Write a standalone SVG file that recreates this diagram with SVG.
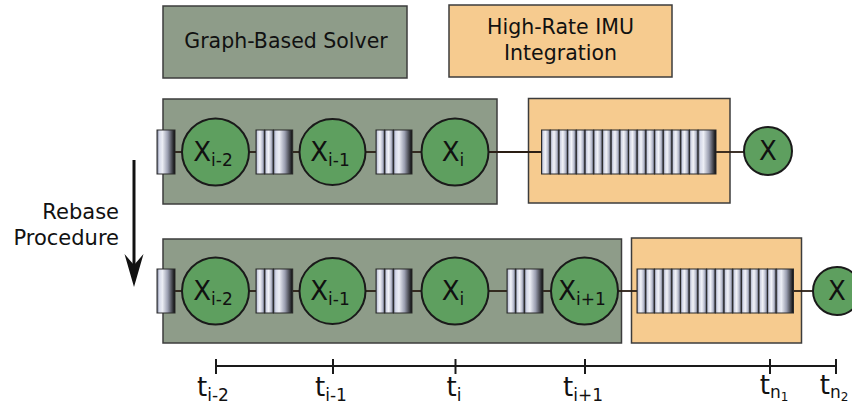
<svg xmlns="http://www.w3.org/2000/svg" xmlns:xlink="http://www.w3.org/1999/xlink" width="852" height="407" viewBox="0 0 852 407">
<style>
text{font-family:"DejaVu Sans","Liberation Sans",sans-serif;fill:#111}
.gbox{fill:#8e9c89;stroke:#3c3c3c;stroke-width:1.5}
.obox{fill:#f6cb8f;stroke:#3c3c3c;stroke-width:1.5}
.state{fill:#5e9f5f;stroke:#1a1a1a;stroke-width:2}
.nb{fill:url(#gBar);stroke:#2a2a2a;stroke-width:1}
.eb{fill:url(#gEnd);stroke:#2a2a2a;stroke-width:1}
.lab{font-size:20.5px;text-anchor:middle}
.x{font-size:26px;text-anchor:middle}
.sub{font-size:17px}
.tl{font-size:26px;text-anchor:middle}
.conn line{stroke:#2a1e14;stroke-width:1.8}
.axis line{stroke:#1a1a1a;stroke-width:2}
</style>
<defs>
<linearGradient id="gBar" x1="0" y1="0" x2="1" y2="0">
<stop offset="0" stop-color="#5a6078"/>
<stop offset="0.18" stop-color="#d0d4e4"/>
<stop offset="0.45" stop-color="#f2f3f8"/>
<stop offset="0.75" stop-color="#b8bccd"/>
<stop offset="1" stop-color="#4c5166"/>
</linearGradient>
<linearGradient id="gEnd" x1="0" y1="0" x2="1" y2="0">
<stop offset="0" stop-color="#5a6078"/>
<stop offset="0.12" stop-color="#d4d8e8"/>
<stop offset="0.3" stop-color="#eceef5"/>
<stop offset="0.6" stop-color="#9a9eb0"/>
<stop offset="1" stop-color="#080808"/>
</linearGradient>
<rect id="nb" width="8.7" height="44" class="nb"/>
</defs>

<g id="legend-solver"><rect class="gbox" x="163" y="6" width="244" height="72"/><text class="lab" x="286" y="48">Graph-Based Solver</text></g>
<g id="legend-imu"><rect class="obox" x="449" y="5" width="223" height="72"/><text class="lab" x="560.5" y="34">High-Rate IMU</text><text class="lab" x="560.5" y="60">Integration</text></g>

<g id="rebase"><line x1="134" y1="160" x2="134" y2="270" stroke="#111" stroke-width="3"/><path d="M134,287 L124.5,254 L134,265 L143.5,254 Z" fill="#111"/><text x="119" y="219" font-size="21" text-anchor="end">Rebase</text><text x="119" y="245" font-size="21" text-anchor="end">Procedure</text></g>

<g id="row1-solver"><rect class="gbox" x="163" y="99" width="334" height="105"/></g>
<g id="row1-imu"><rect class="obox" x="528.5" y="98.5" width="201.5" height="104.5"/></g>
<g id="row2-solver"><rect class="gbox" x="163" y="239" width="458.5" height="104"/></g>
<g id="row2-imu"><rect class="obox" x="631.5" y="238" width="170" height="105"/></g>

<g class="conn" id="connectors">
<line x1="175" y1="152" x2="182" y2="152"/><line x1="249" y1="152" x2="256" y2="152"/><line x1="293" y1="152" x2="299" y2="152"/><line x1="366" y1="152" x2="376" y2="152"/><line x1="412" y1="152" x2="421.5" y2="152"/><line x1="488.5" y1="152" x2="541.5" y2="152"/><line x1="716" y1="152" x2="744" y2="152"/>
<line x1="175" y1="291" x2="182" y2="291"/><line x1="249" y1="291" x2="256" y2="291"/><line x1="293" y1="291" x2="299" y2="291"/><line x1="366" y1="291" x2="376" y2="291"/><line x1="412" y1="291" x2="421.5" y2="291"/><line x1="488.5" y1="291" x2="507" y2="291"/><line x1="543" y1="291" x2="551" y2="291"/><line x1="618" y1="291" x2="637" y2="291"/><line x1="793.5" y1="291" x2="813" y2="291"/>
</g>

<!-- Row 1 -->
<g id="r1-f0"><rect class="eb" x="157" y="130" width="18" height="44"/></g>
<g id="r1-xim2"><circle class="state" cx="215.5" cy="152" r="33.5"/><text class="x" x="213" y="161">X<tspan class="sub" dy="5">i-2</tspan></text></g>
<g id="r1-f1"><use xlink:href="#nb" x="256" y="130"/><use xlink:href="#nb" x="264.7" y="130"/><rect class="eb" x="273.4" y="130" width="19.3" height="44"/></g>
<g id="r1-xim1"><circle class="state" cx="332.5" cy="152" r="33"/><text class="x" x="330" y="161">X<tspan class="sub" dy="5">i-1</tspan></text></g>
<g id="r1-f2"><use xlink:href="#nb" x="376" y="130"/><use xlink:href="#nb" x="384.7" y="130"/><rect class="eb" x="393.4" y="130" width="18.6" height="44"/></g>
<g id="r1-xi"><circle class="state" cx="455" cy="152" r="33.5"/><text class="x" x="453" y="161">X<tspan class="sub" dy="5">i</tspan></text></g>
<g id="r1-imu-bar">
<use xlink:href="#nb" x="541.5" y="130"/><use xlink:href="#nb" x="550.2" y="130"/><use xlink:href="#nb" x="558.9" y="130"/><use xlink:href="#nb" x="567.6" y="130"/><use xlink:href="#nb" x="576.3" y="130"/><use xlink:href="#nb" x="585" y="130"/><use xlink:href="#nb" x="593.7" y="130"/><use xlink:href="#nb" x="602.4" y="130"/><use xlink:href="#nb" x="611.1" y="130"/><use xlink:href="#nb" x="619.8" y="130"/><use xlink:href="#nb" x="628.5" y="130"/><use xlink:href="#nb" x="637.2" y="130"/><use xlink:href="#nb" x="645.9" y="130"/><use xlink:href="#nb" x="654.6" y="130"/><use xlink:href="#nb" x="663.3" y="130"/><use xlink:href="#nb" x="672" y="130"/><use xlink:href="#nb" x="680.7" y="130"/><use xlink:href="#nb" x="689.4" y="130"/>
<rect class="eb" x="698.1" y="130" width="17.9" height="44"/></g>
<g id="r1-x"><circle class="state" cx="768" cy="151" r="24"/><text class="x" x="768" y="160">X</text></g>

<!-- Row 2 -->
<g id="r2-f0"><rect class="eb" x="157" y="269" width="18" height="44"/></g>
<g id="r2-xim2"><circle class="state" cx="215.5" cy="291" r="33.5"/><text class="x" x="213" y="300">X<tspan class="sub" dy="5">i-2</tspan></text></g>
<g id="r2-f1"><use xlink:href="#nb" x="256" y="269"/><use xlink:href="#nb" x="264.7" y="269"/><rect class="eb" x="273.4" y="269" width="19.3" height="44"/></g>
<g id="r2-xim1"><circle class="state" cx="332.5" cy="291" r="33"/><text class="x" x="330" y="300">X<tspan class="sub" dy="5">i-1</tspan></text></g>
<g id="r2-f2"><use xlink:href="#nb" x="376" y="269"/><use xlink:href="#nb" x="384.7" y="269"/><rect class="eb" x="393.4" y="269" width="18.6" height="44"/></g>
<g id="r2-xi"><circle class="state" cx="455" cy="291" r="33.5"/><text class="x" x="453" y="300">X<tspan class="sub" dy="5">i</tspan></text></g>
<g id="r2-f3"><use xlink:href="#nb" x="507" y="269"/><use xlink:href="#nb" x="515.7" y="269"/><rect class="eb" x="524.4" y="269" width="18.6" height="44"/></g>
<g id="r2-xip1"><circle class="state" cx="584.5" cy="291" r="33.5"/><text class="x" x="582" y="300">X<tspan class="sub" dy="5">i+1</tspan></text></g>
<g id="r2-imu-bar">
<use xlink:href="#nb" x="637" y="269"/><use xlink:href="#nb" x="645.7" y="269"/><use xlink:href="#nb" x="654.4" y="269"/><use xlink:href="#nb" x="663.1" y="269"/><use xlink:href="#nb" x="671.8" y="269"/><use xlink:href="#nb" x="680.5" y="269"/><use xlink:href="#nb" x="689.2" y="269"/><use xlink:href="#nb" x="697.9" y="269"/><use xlink:href="#nb" x="706.6" y="269"/><use xlink:href="#nb" x="715.3" y="269"/><use xlink:href="#nb" x="724" y="269"/><use xlink:href="#nb" x="732.7" y="269"/><use xlink:href="#nb" x="741.4" y="269"/><use xlink:href="#nb" x="750.1" y="269"/><use xlink:href="#nb" x="758.8" y="269"/><use xlink:href="#nb" x="767.5" y="269"/>
<rect class="eb" x="776.2" y="269" width="17.3" height="44"/></g>
<g id="r2-x"><circle class="state" cx="837" cy="291" r="24"/><text class="x" x="837" y="300">X</text></g>

<!-- Time axis -->
<g id="axis" class="axis">
<line x1="216" y1="366" x2="836" y2="366"/>
<line x1="216" y1="359" x2="216" y2="374"/><line x1="333" y1="359" x2="333" y2="374"/><line x1="455.5" y1="359" x2="455.5" y2="374"/><line x1="585" y1="359" x2="585" y2="374"/><line x1="770" y1="359" x2="770" y2="374"/><line x1="836" y1="359" x2="836" y2="374"/>
</g>
<g id="axis-labels">
<text class="tl" x="213" y="396">t<tspan class="sub" dy="5">i-2</tspan></text>
<text class="tl" x="331" y="396">t<tspan class="sub" dy="5">i-1</tspan></text>
<text class="tl" x="454" y="396">t<tspan class="sub" dy="5">i</tspan></text>
<text class="tl" x="583" y="396">t<tspan class="sub" dy="5">i+1</tspan></text>
<text class="tl" x="774" y="394">t<tspan class="sub" dy="4">n<tspan font-size="12" dy="3">1</tspan></tspan></text>
<text class="tl" x="834" y="394">t<tspan class="sub" dy="4">n<tspan font-size="12" dy="3">2</tspan></tspan></text>
</g>
</svg>
